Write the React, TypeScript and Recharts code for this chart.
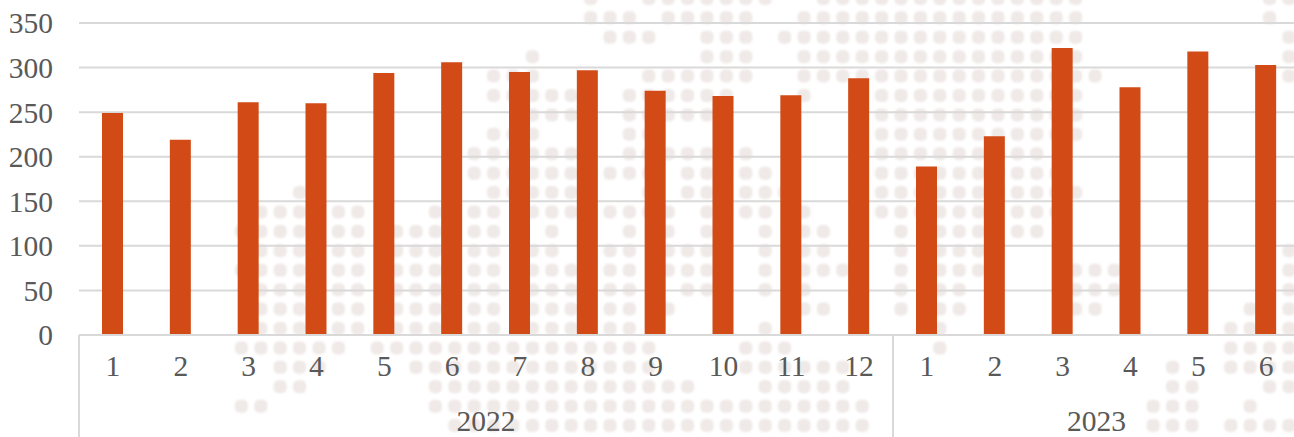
import { Bar, BarChart, CartesianGrid, Scatter, ScatterChart, XAxis, YAxis } from "recharts";

const months = [1, 2, 3, 4, 5, 6, 7, 8, 9, 10, 11, 12, 1, 2, 3, 4, 5, 6];
const years = [
  2022, 2022, 2022, 2022, 2022, 2022, 2022, 2022, 2022, 2022, 2022, 2022,
  2023, 2023, 2023, 2023, 2023, 2023,
];
const values = [249, 219, 261, 260, 294, 306, 295, 297, 274, 268, 269, 288, 189, 223, 322, 278, 318, 303];
const yTicks = [0, 50, 100, 150, 200, 250, 300, 350];

// background dot map, one list of dot columns per row (first row is row -1)
const dotRows = [
  [29, 32, 33, 34, 35, 36, 37, 38, 41, 42, 43, 44, 45, 46, 47, 48, 49, 50, 51, 52, 53, 54, 64, 65],
  [29, 30, 31, 33, 34, 35, 36, 37, 40, 41, 42, 43, 44, 45, 46, 47, 48, 49, 50, 51, 52, 53, 54, 64],
  [30, 31, 32, 35, 36, 37, 39, 40, 41, 42, 43, 44, 45, 46, 47, 48, 49, 50, 51, 52, 53, 54, 65],
  [26, 35, 36, 37, 40, 41, 42, 43, 44, 45, 46, 47, 48, 49, 50, 51, 52, 53, 54, 65],
  [24, 25, 26, 32, 33, 34, 35, 36, 37, 40, 41, 42, 43, 44, 45, 46, 47, 48, 49, 50, 51, 52, 53, 54, 55, 65],
  [24, 25, 26, 27, 28, 31, 32, 33, 34, 35, 36, 40, 44, 45, 46, 47, 48, 49, 50, 51, 52, 53, 54],
  [26, 27, 28, 31, 32, 33, 34, 35, 44, 45, 46, 47, 48, 49, 50, 51, 52, 53, 54],
  [24, 25, 26, 31, 32, 44, 45, 46, 47, 48, 49, 50, 51, 52, 53, 54],
  [23, 24, 25, 26, 27, 28, 31, 32, 33, 34, 35, 37, 44, 45, 46, 47, 48, 49, 50, 51, 52],
  [23, 24, 25, 26, 27, 28, 30, 31, 32, 34, 35, 36, 37, 38, 44, 45, 46, 47, 48, 49, 50, 51, 52, 53],
  [14, 24, 25, 26, 27, 28, 32, 34, 35, 36, 37, 38, 39, 44, 45, 46, 47, 48, 49, 50, 51, 52, 53, 54],
  [12, 13, 14, 16, 17, 21, 23, 24, 26, 27, 28, 30, 31, 32, 33, 35, 36, 37, 38, 40, 44, 45, 46, 47, 48, 49, 51, 52, 53],
  [11, 12, 13, 14, 16, 17, 19, 20, 21, 23, 24, 27, 31, 33, 35, 38, 40, 41, 45, 47, 48, 49, 51, 52],
  [12, 13, 14, 16, 17, 19, 20, 21, 23, 24, 26, 27, 30, 31, 33, 34, 35, 38, 40, 41, 45, 47, 48, 49, 65],
  [11, 12, 13, 14, 16, 17, 19, 20, 21, 23, 24, 26, 27, 28, 30, 31, 33, 34, 35, 38, 40, 41, 42, 45, 47, 48, 49, 54, 55, 56, 65],
  [12, 13, 14, 16, 17, 19, 20, 21, 23, 24, 26, 27, 28, 30, 31, 34, 35, 38, 40, 45, 47, 48, 54, 55, 56, 65],
  [12, 13, 14, 16, 17, 19, 20, 21, 23, 24, 26, 27, 28, 30, 31, 33, 40, 41, 45, 47, 48, 54, 55, 63, 65],
  [12, 13, 14, 16, 17, 19, 20, 21, 23, 24, 26, 27, 28, 30, 31, 38, 47, 62, 63, 65],
  [11, 12, 13, 14, 15, 16, 18, 19, 20, 21, 22, 23, 24, 25, 26, 27, 28, 29, 30, 31, 32, 37, 38, 39, 47, 62, 63, 64, 65],
  [13, 14, 15, 20, 21, 22, 23, 24, 25, 26, 27, 28, 29, 30, 31, 32, 37, 38, 39, 40, 41, 42, 59, 62, 63, 64, 65],
  [13, 14, 21, 22, 23, 24, 25, 26, 27, 28, 29, 30, 31, 32, 33, 34, 38, 39, 40, 41, 42, 59, 60, 64, 65],
  [11, 12, 21, 22, 23, 24, 25, 26, 27, 28, 29, 30, 31, 32, 33, 34, 35, 36, 37, 38, 39, 40, 41, 42, 43, 58, 59, 60, 63],
  [22, 23, 24, 25, 26, 27, 28, 29, 30, 31, 32, 33, 34, 35, 36, 37, 38, 39, 40, 41, 42, 43, 58, 59, 60, 62, 63, 64, 65],
];

const rows = values.map((value, i) => ({ id: i, month: months[i], year: years[i], value }));
const dots = dotRows.flatMap((cols, r) => cols.map((col) => ({ col, row: r - 1 })));

const FONT = "'Liberation Serif', serif";
const TEXT = "#595959";
const LINE = "#d9d9d9";
const STEP = 1221 / 18;

function Dot({ cx, cy }: any) {
  return <rect x={cx - 6.5} y={cy - 6.5} width={13} height={13} rx={5} fill="#efe9e7" />;
}

// second axis row: a divider and a centred label at the first month of each year
function YearTick({ x, y, index }: any) {
  if (index > 0 && years[index] === years[index - 1]) return null;
  const count = years.filter((year) => year === years[index]).length;
  const left = x - STEP / 2;
  return (
    <g>
      <line x1={left} x2={left} y1={y - 50} y2={y + 52} stroke={LINE} strokeWidth={2} />
      <text
        x={left + (STEP * count) / 2}
        y={y + 46}
        textAnchor="middle"
        fontFamily={FONT}
        fontSize={29.5}
        fill={TEXT}
      >
        {years[index]}
      </text>
    </g>
  );
}

export default function App() {
  return (
    <div style={{ position: "fixed", left: 0, top: 0, width: 1294, height: 437, overflow: "hidden", background: "#fff" }}>
      <div style={{ position: "absolute", left: 28.3, top: -21.4, filter: "blur(1px)" }}>
        <ScatterChart width={1358} height={466} margin={{ top: 0, right: 0, bottom: 0, left: 0 }}>
          <XAxis type="number" dataKey="col" domain={[0, 70]} hide />
          <YAxis type="number" dataKey="row" domain={[-2, 22]} reversed hide />
          <Scatter data={dots} shape={<Dot />} isAnimationActive={false} />
        </ScatterChart>
      </div>
      <div style={{ position: "absolute", left: 0, top: 0 }}>
        <BarChart width={1300} height={437} data={rows} margin={{ top: 23, right: 0, bottom: 0, left: 0 }} barSize={21}>
          <CartesianGrid horizontal vertical={false} stroke={LINE} strokeWidth={2} />
          <XAxis
            xAxisId="month"
            dataKey="id"
            height={50}
            interval={0}
            tickLine={false}
            axisLine={{ stroke: LINE, strokeWidth: 2 }}
            tickMargin={14}
            tickFormatter={(id: number) => String(months[id])}
            tick={{ fontFamily: FONT, fontSize: 29.5, fill: TEXT }}
          />
          <XAxis
            xAxisId="year"
            dataKey="id"
            height={52}
            interval={0}
            tickLine={false}
            axisLine={false}
            tickSize={0}
            tickMargin={0}
            tick={<YearTick />}
          />
          <YAxis
            width={79}
            domain={[0, 350]}
            ticks={yTicks}
            interval={0}
            tickLine={false}
            axisLine={false}
            tickSize={0}
            tickMargin={26}
            tick={{ fontFamily: FONT, fontSize: 29.5, fill: TEXT }}
          />
          <Bar xAxisId="month" dataKey="value" fill="#d24a16" isAnimationActive={false} />
        </BarChart>
      </div>
    </div>
  );
}
